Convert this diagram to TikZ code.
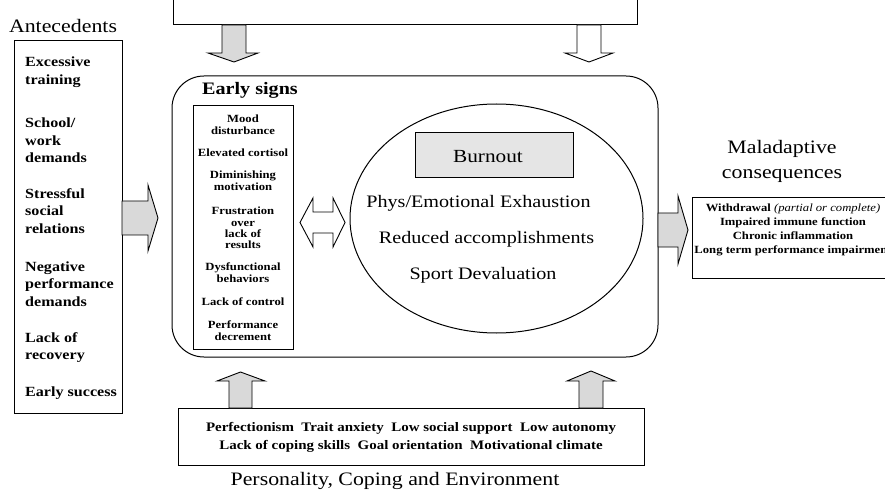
\documentclass[tikz,border=0pt]{standalone}
\usepackage{fontspec}
\setmainfont{Liberation Serif}[FakeStretch=1.15]
\usetikzlibrary{shapes.geometric}
\tikzset{
  frame/.style={draw, line width=1pt, inner sep=0pt},
  sarrow/.style={draw, line width=0.9pt, fill=black!15, line join=miter},
  warrow/.style={draw, line width=0.9pt, fill=white, line join=miter},
  lbl/.style={inner sep=0pt, font=\fontsize{19}{25}\selectfont, align=center},
  antetxt/.style={inner sep=0pt, anchor=west, align=left, font=\bfseries\fontsize{14}{17.5}\selectfont},
  signtxt/.style={inner sep=0pt, align=center, font=\bfseries\fontsize{11}{12}\selectfont},
  burntxt/.style={inner sep=0pt, font=\fontsize{17.5}{21}\selectfont},
  smalltxt/.style={inner sep=0pt, align=center, font=\bfseries\fontsize{11}{14}\selectfont},
  perstxt/.style={inner sep=0pt, align=center, font=\bfseries\fontsize{13}{18.5}\selectfont},
}
\begin{document}
\begin{tikzpicture}[x=1pt,y=-1pt]
\useasboundingbox (0,0) rectangle (885,494);

% boxes
\node[frame, minimum width=464, minimum height=35] (top) at (405,7.5) {};
\node[frame, minimum width=108, minimum height=372] (antebox) at (68,227) {};
\node[frame, rounded corners=32, minimum width=486, minimum height=281] (main) at (415,216.5) {};
\node[frame, minimum width=100, minimum height=243] (signs) at (243,227.5) {};
\node[draw, line width=1pt, ellipse, inner sep=0pt, minimum width=293, minimum height=229] (burn) at (496.5,218.5) {};
\node[frame, fill=black!10, minimum width=158, minimum height=45] (bbox) at (494,155.5) {};
\node[frame, minimum width=220, minimum height=80] (cons) at (802,238) {};
\node[frame, minimum width=466, minimum height=57] (pers) at (411,436.5) {};

% block arrows
\draw[sarrow] (222,25) -- (222,53) -- (208,53) -- (234,62) -- (258,53) -- (246,53) -- (246,25) -- cycle;
\draw[warrow] (577,25) -- (577,53) -- (565,53) -- (589,62) -- (613,53) -- (601,53) -- (601,25) -- cycle;
\draw[sarrow] (229,408) -- (229,381) -- (217,381) -- (240.5,372) -- (265,381) -- (252,381) -- (252,408) -- cycle;
\draw[sarrow] (579,408) -- (579,381) -- (567,381) -- (591,371) -- (615,381) -- (603,381) -- (603,408) -- cycle;
\draw[sarrow] (122,201) -- (148,201) -- (148,185) -- (158,218) -- (148,251) -- (148,235) -- (122,235) -- cycle;
\draw[sarrow] (658,213) -- (678,213) -- (678,196) -- (688,230) -- (678,264) -- (678,247) -- (658,247) -- cycle;
\draw[warrow] (300,222.5) -- (313,198) -- (313,212) -- (333,212) -- (333,198) -- (345,222.5)
  -- (333,247) -- (333,233) -- (313,233) -- (313,247) -- cycle;

% labels
\node[lbl] (lante) at (63,26) {Antecedents};
\node[lbl] (lmal) at (782,161) {Maladaptive\\consequences};
\node[lbl] (lpers) at (395,481) {Personality, Coping and Environment};

\node[antetxt] (a1) at (25,72) {Excessive\\training};
\node[antetxt] (a2) at (25,140.5) {School/\\work\\demands};
\node[antetxt] (a3) at (25,211) {Stressful\\social\\relations};
\node[antetxt] (a4) at (25,284) {Negative\\performance\\demands};
\node[antetxt] (a5) at (25,347.5) {Lack of\\recovery};
\node[antetxt] (a6) at (25,393) {Early success};

\node[inner sep=0pt, font=\bfseries\fontsize{17.5}{21}\selectfont] (es) at (250,90) {Early signs};
\node[signtxt] (s1) at (243,124.5) {Mood\\disturbance};
\node[signtxt] (s2) at (243,153) {Elevated cortisol};
\node[signtxt] (s3) at (243,181) {Diminishing\\motivation};
\node[signtxt, font=\bfseries\fontsize{11}{11.2}\selectfont] (s4) at (243,228) {Frustration\\over\\lack of\\results};
\node[signtxt] (s5) at (243,273) {Dysfunctional\\behaviors};
\node[signtxt] (s6) at (243,302) {Lack of control};
\node[signtxt] (s7) at (243,330.5) {Performance\\decrement};

\node[inner sep=0pt, font=\fontsize{18.5}{21}\selectfont] (bt) at (488,157) {Burnout};
\node[burntxt] (b1) at (478.5,203) {Phys/Emotional Exhaustion};
\node[burntxt] (b2) at (486.5,239) {Reduced accomplishments};
\node[burntxt] (b3) at (483,275) {Sport Devaluation};

\node[smalltxt] (c1) at (793,230) {Withdrawal {\mdseries\itshape (partial or complete)}\\Impaired immune function\\Chronic inflammation\\Long term performance impairment};

\node[perstxt] (p1) at (411,437.5) {Perfectionism\ \ Trait anxiety\ \ Low social support\ \ Low autonomy\\Lack of coping skills\ \ Goal orientation\ \ Motivational climate};
\end{tikzpicture}
\end{document}
